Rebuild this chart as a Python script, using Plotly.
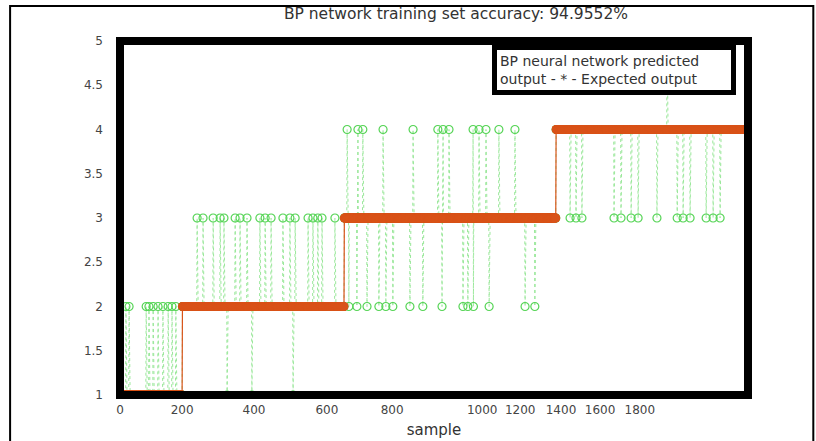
import numpy as np
import plotly.graph_objects as go

# ---------------- data ----------------
class_labels = [1, 2, 3, 4]
class_counts = [178, 464, 607, 551]          # samples per expected class (in order)

# misclassified samples (sample index) and what the network predicted
err_c1_to2 = [17, 26, 75, 83, 95, 109, 123, 138, 149, 160]
err_c2_to3 = [221, 238, 267, 287, 298, 330, 344, 364, 401, 416, 433, 467, 487,
              502, 539, 553, 567, 579, 616]
err_c2_to1 = [307, 378, 496]
err_c3_to4 = [651, 682, 696, 754, 840, 911, 926, 943, 1012, 1029, 1049, 1086, 1132]
err_c3_to2 = [656, 679, 708, 742, 762, 782, 831, 868, 923, 983, 997, 1013,
              1058, 1161, 1189]
err_c4_to3 = [1290, 1307, 1324, 1416, 1436, 1465, 1485, 1539, 1597, 1614, 1634,
              1680, 1700, 1720]
err_c4_to5 = [1568]

x_tick_text = ["0", "200", "400", "600", "800", "1000", "1200", "1400", "1600", "1800"]
x_tick_pos = [0, 178, 384, 593, 780, 1038, 1147, 1264, 1376, 1490]
y_tick_vals = [1, 1.5, 2, 2.5, 3, 3.5, 4, 4.5, 5]
y_tick_text = ["1", "1.5", "2", "2.5", "3", "3.5", "4", "4.5", "5"]

title_text = "BP network training set accuracy: 94.9552%"
legend_text = "BP neural network predicted<br>output - * - Expected output"

# ---------------- build series ----------------
expected = np.repeat(class_labels, class_counts)
samples = np.arange(1, len(expected) + 1)
predicted = expected.copy()
for idx_list, val in [(err_c1_to2, 2), (err_c2_to3, 3), (err_c2_to1, 1),
                      (err_c3_to4, 4), (err_c3_to2, 2), (err_c4_to3, 3),
                      (err_c4_to5, 5)]:
    predicted[np.array(idx_list) - 1] = val

GREEN_LINE = "#9be89b"
GREEN = "#55d455"
ORANGE = "#d95319"
FONT = "DejaVu Sans"

fig = go.Figure()
fig.add_trace(go.Scatter(
    x=samples, y=predicted, mode="lines",
    line=dict(color=GREEN_LINE, width=1, dash="dot"),
    showlegend=False, hoverinfo="skip"))
fig.add_trace(go.Scatter(
    x=samples, y=predicted, mode="markers",
    marker=dict(symbol="circle-open", size=8, color=GREEN, line=dict(width=1.2)),
    showlegend=False, hoverinfo="skip"))
fig.add_trace(go.Scatter(
    x=samples, y=expected, mode="lines+markers",
    line=dict(color=ORANGE, width=1.2),
    marker=dict(symbol="circle", size=9, color=ORANGE),
    showlegend=False, hoverinfo="skip"))

fig.update_layout(
    width=816, height=441,
    margin=dict(l=120, r=68, t=41, b=46, autoexpand=False),
    paper_bgcolor="white", plot_bgcolor="white",
    font=dict(family=FONT, color="#333333", size=12),
    title=dict(text=title_text, x=0.535, xref="paper", xanchor="center",
               y=0.97, yref="container", yanchor="middle",
               font=dict(family=FONT, size=15.5, color="#333333")),
    xaxis=dict(range=[0, 1800], showgrid=False, zeroline=False, showline=False,
               automargin=False,
               tickmode="array", tickvals=x_tick_pos, ticktext=x_tick_text,
               ticks="", ticklabelstandoff=6,
               tickfont=dict(family=FONT, size=12, color="#444444"),
               minor=dict(ticks="inside", dtick=200, tick0=0, ticklen=4,
                          tickcolor="#bbbbbb", showgrid=False),
               title=dict(text="sample", standoff=8,
                          font=dict(family=FONT, size=15, color="#333333"))),
    yaxis=dict(range=[1, 5], showgrid=False, zeroline=False, showline=False,
               automargin=False,
               tickmode="array", tickvals=y_tick_vals, ticktext=y_tick_text,
               ticks="", ticklabelstandoff=16,
               tickfont=dict(family=FONT, size=12, color="#444444")),
    shapes=[
        dict(type="rect", xref="paper", yref="paper", x0=0, x1=1, y0=0, y1=1,
             line=dict(color="black", width=8), layer="above"),
        dict(type="rect", xref="paper", yref="paper", x0=-0.175, x1=1.104,
             y0=-0.2, y1=1.099, line=dict(color="black", width=2), layer="above"),
    ],
    annotations=[
        dict(text=legend_text, xref="paper", yref="paper", x=0.786, y=0.918,
             xanchor="center", yanchor="middle", showarrow=False, align="left",
             width=228, font=dict(family=FONT, size=14, color="#333333"),
             bgcolor="white", bordercolor="black", borderwidth=5, borderpad=3),
    ],
)

fig.write_html("out.html")
